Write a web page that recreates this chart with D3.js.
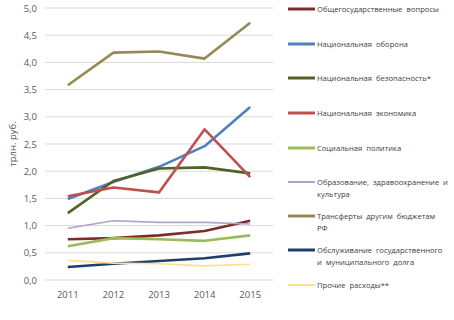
<script src="https://d3js.org/d3.v7.min.js"></script>
<style>
  body { margin: 0; background: #fff; }
  text { font-family: "Open Sans", "Noto Sans", sans-serif; }
  .grid line { stroke: #d9d9d9; stroke-width: 1; }
  .tick text { fill: #595959; font-size: 9.5px; }
  .legend text { fill: #404040; font-size: 7.6px; word-spacing: 2px; }
</style>
<svg id="chart" width="454" height="320"></svg>
<script>
  const years = ["2011", "2012", "2013", "2014", "2015"]
  const yTicks = [0, 0.5, 1, 1.5, 2, 2.5, 3, 3.5, 4, 4.5, 5]
  const names = [
    ["Общегосударственные  вопросы"],
    ["Национальная  оборона"],
    ["Национальная  безопасность*"],
    ["Национальная  экономика"],
    ["Социальная  политика"],
    ["Образование,  здравоохранение  и", "культура"],
    ["Трансферты  другим  бюджетам", "РФ"],
    ["Обслуживание  государственного", "и муниципального  долга"],
    ["Прочие  расходы**"]
  ]
  const colors = ["#7b2c2c", "#4f81bd", "#4f6228", "#c0504d", "#9bbb59", "#b3a2c7", "#948a54", "#1f3f6b", "#ffe08a"]
  const widths = [2.6, 2.6, 2.6, 2.6, 2.6, 1.6, 2.6, 2.6, 1.6]
  const general = [0.75, 0.77, 0.82, 0.90, 1.09]
  const defence = [1.49, 1.80, 2.08, 2.46, 3.18]
  const security = [1.23, 1.82, 2.05, 2.07, 1.96]
  const economy = [1.54, 1.70, 1.61, 2.77, 1.89]
  const social = [0.62, 0.77, 0.75, 0.72, 0.82]
  const education = [0.95, 1.09, 1.06, 1.06, 1.03]
  const transfers = [3.58, 4.18, 4.20, 4.07, 4.73]
  const debt = [0.24, 0.30, 0.35, 0.40, 0.49]
  const other = [0.36, 0.31, 0.30, 0.26, 0.29]
  const series = [general, defence, security, economy, social, education, transfers, debt, other]

  const svg = d3.select("#chart")
  const margin = {top: 8, left: 45, right: 181, bottom: 40}
  const width = 454 - margin.left - margin.right
  const height = 320 - margin.top - margin.bottom

  const x = d3.scaleBand().domain(years).range([0, width])
  const y = d3.scaleLinear().domain([0, 5]).range([height, 0])
  const g = svg.append("g").attr("transform", "translate(" + margin.left + "," + margin.top + ")")

  // gridlines
  g.append("g").attr("class", "grid")
    .selectAll("line").data(yTicks).join("line")
    .attr("x1", 0).attr("x2", width)
    .attr("y1", d => y(d)).attr("y2", d => y(d))

  // y axis
  const yAxis = g.append("g")
    .call(d3.axisLeft(y).tickValues(yTicks).tickSize(0).tickPadding(8).tickFormat(d => d3.format(".1f")(d).replace(".", ",")))
  yAxis.select(".domain").remove()

  // x axis
  const xAxis = g.append("g").attr("transform", "translate(0," + height + ")")
    .call(d3.axisBottom(x).tickSize(0).tickPadding(11))
  xAxis.select(".domain").remove()

  svg.append("text")
    .attr("transform", "translate(16," + (margin.top + height / 2) + ") rotate(-90)")
    .attr("text-anchor", "middle")
    .attr("fill", "#595959")
    .attr("font-size", 9.5)
    .text("трлн. руб.")

  const line = d3.line().x((d, i) => x(years[i]) + x.bandwidth() / 2).y(d => y(d))

  series.forEach((s, k) => {
    g.append("path")
      .datum(s)
      .attr("fill", "none")
      .attr("stroke", colors[k])
      .attr("stroke-width", widths[k])
      .attr("stroke-linejoin", "round")
      .attr("d", line)
  })

  // legend
  const legendY = [9, 44, 78, 113, 148, 182, 216, 250, 285]
  const legend = svg.append("g").attr("class", "legend")
  names.forEach((n, k) => {
    const item = legend.append("g").attr("transform", "translate(288," + legendY[k] + ")")
    item.append("line").attr("x1", 0).attr("x2", 27).attr("y1", 0).attr("y2", 0)
      .attr("stroke", colors[k]).attr("stroke-width", widths[k] + 0.4)
    n.forEach((t, j) => {
      item.append("text").attr("x", 29).attr("y", j * 12.5).attr("dy", "0.35em").text(t)
    })
  })
</script>
